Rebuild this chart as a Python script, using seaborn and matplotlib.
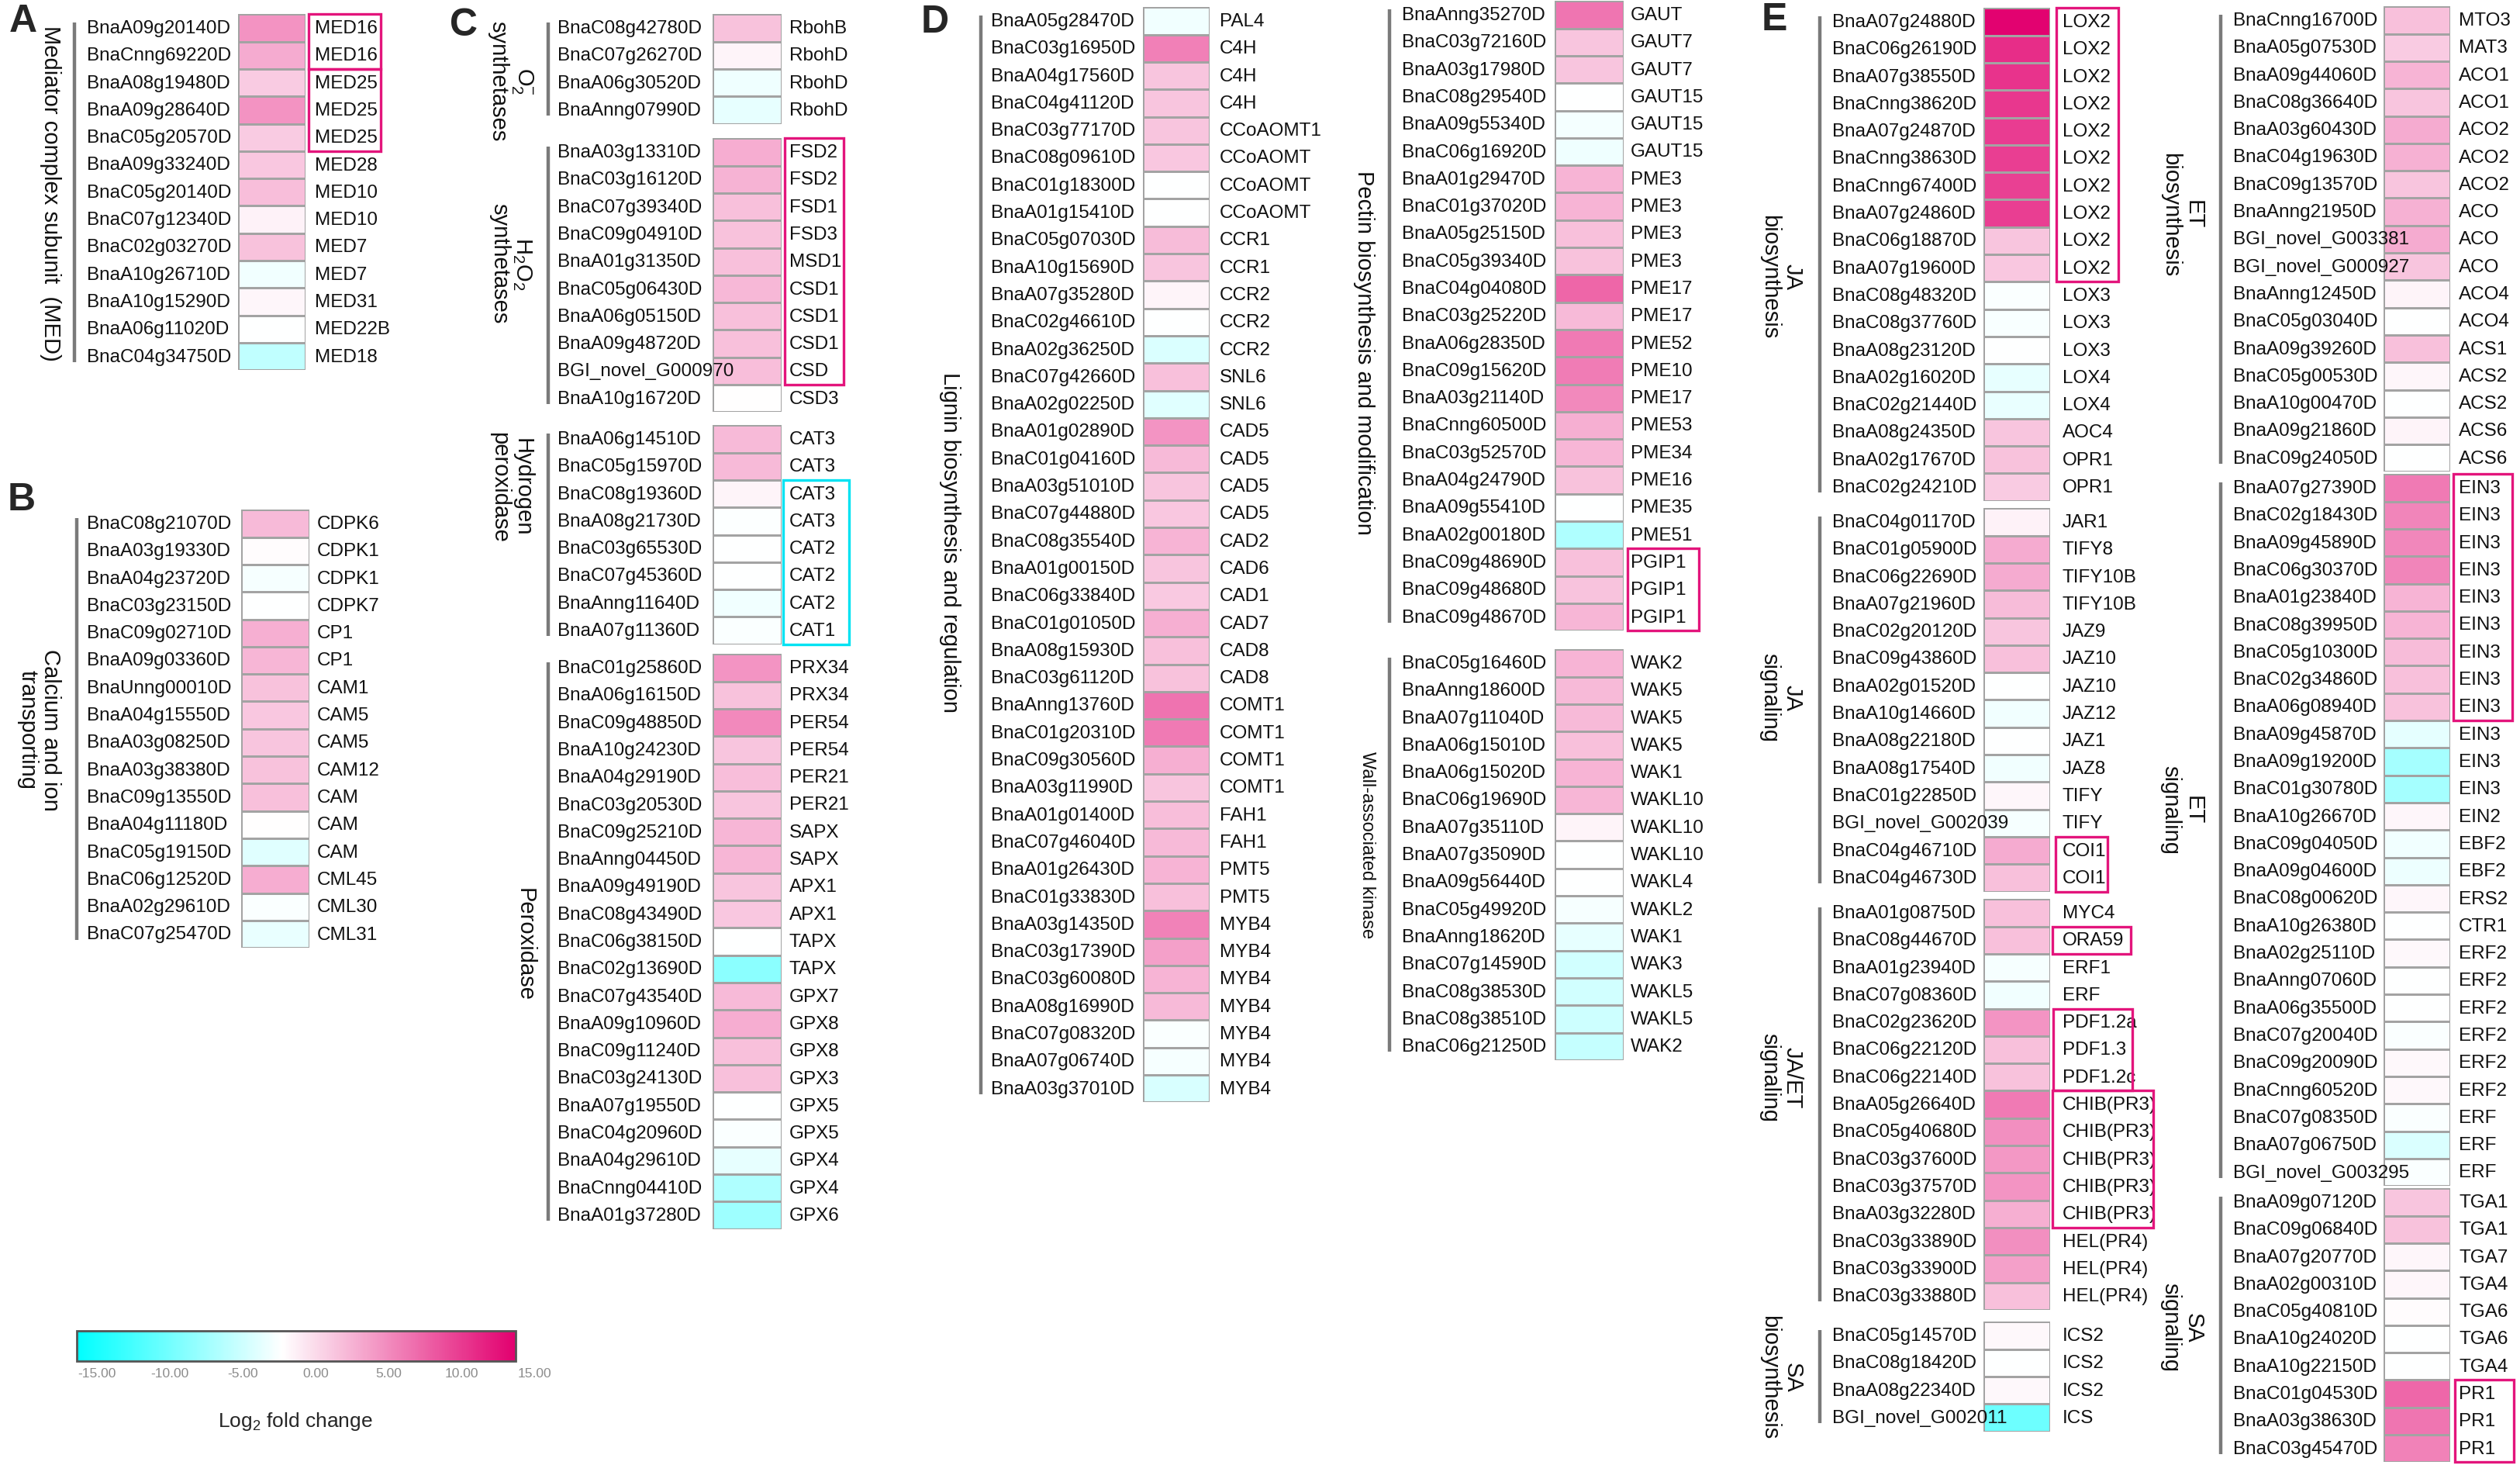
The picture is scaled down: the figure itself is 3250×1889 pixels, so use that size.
import numpy as np
import pandas as pd
import matplotlib
matplotlib.use("Agg")
import matplotlib.pyplot as plt
import seaborn as sns
from matplotlib.colors import LinearSegmentedColormap, Normalize
from matplotlib.patches import Rectangle
from matplotlib.transforms import blended_transform_factory
from matplotlib.cm import ScalarMappable

# ------------------------------------------------------------------
# data: log2 fold change per gene
# ------------------------------------------------------------------
MED_GENES = ["BnaA09g20140D", "BnaCnng69220D", "BnaA08g19480D", "BnaA09g28640D", "BnaC05g20570D",
             "BnaA09g33240D", "BnaC05g20140D", "BnaC07g12340D", "BnaC02g03270D", "BnaA10g26710D",
             "BnaA10g15290D", "BnaA06g11020D", "BnaC04g34750D"]
MED_NAMES = ["MED16", "MED16", "MED25", "MED25", "MED25", "MED28", "MED10", "MED10", "MED7", "MED7",
             "MED31", "MED22B", "MED18"]
MED_LFC = [4.5, 3.0, 1.0, 4.5, 1.0, 1.2, 1.8, -1.5, 1.5, -3.0, -1.8, -2.3, -5.8]

CA_GENES = ["BnaC08g21070D", "BnaA03g19330D", "BnaA04g23720D", "BnaC03g23150D", "BnaC09g02710D",
            "BnaA09g03360D", "BnaUnng00010D", "BnaA04g15550D", "BnaA03g08250D", "BnaA03g38380D",
            "BnaC09g13550D", "BnaA04g11180D", "BnaC05g19150D", "BnaC06g12520D", "BnaA02g29610D",
            "BnaC07g25470D"]
CA_NAMES = ["CDPK6", "CDPK1", "CDPK1", "CDPK7", "CP1", "CP1", "CAM1", "CAM5", "CAM5", "CAM12",
            "CAM", "CAM", "CAM", "CML45", "CML30", "CML31"]
CA_LFC = [2.0, -2.1, -2.8, -2.4, 2.7, 2.2, 1.5, 1.2, 1.3, 1.5, 1.7, -2.2, -4.0, 2.8, -2.6, -3.5]

O2_GENES = ["BnaC08g42780D", "BnaC07g26270D", "BnaA06g30520D", "BnaAnng07990D"]
O2_NAMES = ["RbohB", "RbohD", "RbohD", "RbohD"]
O2_LFC = [1.5, -1.6, -3.2, -3.6]

H2O2_GENES = ["BnaA03g13310D", "BnaC03g16120D", "BnaC07g39340D", "BnaC09g04910D", "BnaA01g31350D",
              "BnaC05g06430D", "BnaA06g05150D", "BnaA09g48720D", "BGI_novel_G000970", "BnaA10g16720D"]
H2O2_NAMES = ["FSD2", "FSD2", "FSD1", "FSD3", "MSD1", "CSD1", "CSD1", "CSD1", "CSD", "CSD3"]
H2O2_LFC = [2.8, 2.5, 1.6, 1.5, 1.6, 2.1, 1.7, 1.6, 1.8, -2.2]

CAT_GENES = ["BnaA06g14510D", "BnaC05g15970D", "BnaC08g19360D", "BnaA08g21730D", "BnaC03g65530D",
             "BnaC07g45360D", "BnaAnng11640D", "BnaA07g11360D"]
CAT_NAMES = ["CAT3", "CAT3", "CAT3", "CAT3", "CAT2", "CAT2", "CAT2", "CAT1"]
CAT_LFC = [2.0, 2.0, -1.6, -2.5, -2.3, -2.3, -3.0, -2.6]

PRX_GENES = ["BnaC01g25860D", "BnaA06g16150D", "BnaC09g48850D", "BnaA10g24230D", "BnaA04g29190D",
             "BnaC03g20530D", "BnaC09g25210D", "BnaAnng04450D", "BnaA09g49190D", "BnaC08g43490D",
             "BnaC06g38150D", "BnaC02g13690D", "BnaC07g43540D", "BnaA09g10960D", "BnaC09g11240D",
             "BnaC03g24130D", "BnaA07g19550D", "BnaC04g20960D", "BnaA04g29610D", "BnaCnng04410D",
             "BnaA01g37280D"]
PRX_NAMES = ["PRX34", "PRX34", "PER54", "PER54", "PER21", "PER21", "SAPX", "SAPX", "APX1", "APX1",
             "TAPX", "TAPX", "GPX7", "GPX8", "GPX8", "GPX3", "GPX5", "GPX5", "GPX4", "GPX4", "GPX6"]
PRX_LFC = [4.3, 1.5, 5.0, 1.3, 1.8, 1.3, 2.2, 2.2, 1.3, 1.2, -2.3, -8.7, 2.0, 2.8, 1.6, 1.6,
           -2.3, -2.6, -3.6, -6.7, -7.6]

LIG_GENES = ["BnaA05g28470D", "BnaC03g16950D", "BnaA04g17560D", "BnaC04g41120D", "BnaC03g77170D",
             "BnaC08g09610D", "BnaC01g18300D", "BnaA01g15410D", "BnaC05g07030D", "BnaA10g15690D",
             "BnaA07g35280D", "BnaC02g46610D", "BnaA02g36250D", "BnaC07g42660D", "BnaA02g02250D",
             "BnaA01g02890D", "BnaC01g04160D", "BnaA03g51010D", "BnaC07g44880D", "BnaC08g35540D",
             "BnaA01g00150D", "BnaC06g33840D", "BnaC01g01050D", "BnaA08g15930D", "BnaC03g61120D",
             "BnaAnng13760D", "BnaC01g20310D", "BnaC09g30560D", "BnaA03g11990D", "BnaA01g01400D",
             "BnaC07g46040D", "BnaA01g26430D", "BnaC01g33830D", "BnaA03g14350D", "BnaC03g17390D",
             "BnaC03g60080D", "BnaA08g16990D", "BnaC07g08320D", "BnaA07g06740D", "BnaA03g37010D"]
LIG_NAMES = ["PAL4", "C4H", "C4H", "C4H", "CCoAOMT1", "CCoAOMT", "CCoAOMT", "CCoAOMT", "CCR1", "CCR1",
             "CCR2", "CCR2", "CCR2", "SNL6", "SNL6", "CAD5", "CAD5", "CAD5", "CAD5", "CAD2",
             "CAD6", "CAD1", "CAD7", "CAD8", "CAD8", "COMT1", "COMT1", "COMT1", "COMT1", "FAH1",
             "FAH1", "PMT5", "PMT5", "MYB4", "MYB4", "MYB4", "MYB4", "MYB4", "MYB4", "MYB4"]
LIG_LFC = [-3.0, 5.6, 1.3, 1.3, 1.3, 1.2, -2.3, -2.3, 1.9, 1.3, -1.6, -2.3, -4.3, 1.6, -4.0,
           4.3, 2.0, 1.3, 1.2, 2.4, 1.3, 1.1, 2.7, 1.6, 1.5, 6.5, 6.0, 2.7, 1.3, 1.8,
           2.0, 2.4, 1.6, 5.5, 3.6, 2.4, 2.0, -2.6, -2.8, -4.5]

PEC_GENES = ["BnaAnng35270D", "BnaC03g72160D", "BnaA03g17980D", "BnaC08g29540D", "BnaA09g55340D",
             "BnaC06g16920D", "BnaA01g29470D", "BnaC01g37020D", "BnaA05g25150D", "BnaC05g39340D",
             "BnaC04g04080D", "BnaC03g25220D", "BnaA06g28350D", "BnaC09g15620D", "BnaA03g21140D",
             "BnaCnng60500D", "BnaC03g52570D", "BnaA04g24790D", "BnaA09g55410D", "BnaA02g00180D",
             "BnaC09g48690D", "BnaC09g48680D", "BnaC09g48670D"]
PEC_NAMES = ["GAUT", "GAUT7", "GAUT7", "GAUT15", "GAUT15", "GAUT15", "PME3", "PME3", "PME3", "PME3",
             "PME17", "PME17", "PME52", "PME10", "PME17", "PME53", "PME34", "PME16", "PME35", "PME51",
             "PGIP1", "PGIP1", "PGIP1"]
PEC_LFC = [6.3, 1.3, 1.3, -2.3, -2.9, -3.2, 2.4, 2.3, 1.6, 1.5, 7.3, 2.0, 6.0, 5.9, 5.1,
           2.7, 2.2, 1.5, -2.3, -6.7, 1.6, 1.4, 2.2]

WAK_GENES = ["BnaC05g16460D", "BnaAnng18600D", "BnaA07g11040D", "BnaA06g15010D", "BnaA06g15020D",
             "BnaC06g19690D", "BnaA07g35110D", "BnaA07g35090D", "BnaA09g56440D", "BnaC05g49920D",
             "BnaAnng18620D", "BnaC07g14590D", "BnaC08g38530D", "BnaC08g38510D", "BnaC06g21250D"]
WAK_NAMES = ["WAK2", "WAK5", "WAK5", "WAK5", "WAK1", "WAKL10", "WAKL10", "WAKL10", "WAKL4", "WAKL2",
             "WAK1", "WAK3", "WAKL5", "WAKL5", "WAK2"]
WAK_LFC = [2.4, 2.0, 2.0, 1.6, 2.3, 2.2, -1.6, -2.3, -2.4, -2.8, -3.6, -4.8, -4.8, -5.0, -5.5]

JAB_GENES = ["BnaA07g24880D", "BnaC06g26190D", "BnaA07g38550D", "BnaCnng38620D", "BnaA07g24870D",
             "BnaCnng38630D", "BnaCnng67400D", "BnaA07g24860D", "BnaC06g18870D", "BnaA07g19600D",
             "BnaC08g48320D", "BnaC08g37760D", "BnaA08g23120D", "BnaA02g16020D", "BnaC02g21440D",
             "BnaA08g24350D", "BnaA02g17670D", "BnaC02g24210D"]
JAB_NAMES = ["LOX2", "LOX2", "LOX2", "LOX2", "LOX2", "LOX2", "LOX2", "LOX2", "LOX2", "LOX2",
             "LOX3", "LOX3", "LOX3", "LOX4", "LOX4", "AOC4", "OPR1", "OPR1"]
JAB_LFC = [13.5, 10.8, 10.5, 10.2, 9.9, 9.8, 9.7, 9.8, 1.3, 1.2, -2.6, -2.7, -2.3, -3.6, -3.5,
           1.3, 1.5, 1.0]

JAS_GENES = ["BnaC04g01170D", "BnaC01g05900D", "BnaC06g22690D", "BnaA07g21960D", "BnaC02g20120D",
             "BnaC09g43860D", "BnaA02g01520D", "BnaA10g14660D", "BnaA08g22180D", "BnaA08g17540D",
             "BnaC01g22850D", "BGI_novel_G002039", "BnaC04g46710D", "BnaC04g46730D"]
JAS_NAMES = ["JAR1", "TIFY8", "TIFY10B", "TIFY10B", "JAZ9", "JAZ10", "JAZ10", "JAZ12", "JAZ1", "JAZ8",
             "TIFY", "TIFY", "COI1", "COI1"]
JAS_LFC = [-1.5, 3.0, 3.0, 1.9, 1.3, 1.6, -2.4, -3.0, -2.3, -3.0, -1.8, -2.8, 2.9, 1.6]

JAET_GENES = ["BnaA01g08750D", "BnaC08g44670D", "BnaA01g23940D", "BnaC07g08360D", "BnaC02g23620D",
              "BnaC06g22120D", "BnaC06g22140D", "BnaA05g26640D", "BnaC05g40680D", "BnaC03g37600D",
              "BnaC03g37570D", "BnaA03g32280D", "BnaC03g33890D", "BnaC03g33900D", "BnaC03g33880D"]
JAET_NAMES = ["MYC4", "ORA59", "ERF1", "ERF", "PDF1.2a", "PDF1.3", "PDF1.2c", "CHIB(PR3)", "CHIB(PR3)",
              "CHIB(PR3)", "CHIB(PR3)", "CHIB(PR3)", "HEL(PR4)", "HEL(PR4)", "HEL(PR4)"]
JAET_LFC = [1.6, 1.6, -2.8, -3.1, 4.3, 1.6, 1.5, 6.0, 4.7, 4.1, 4.3, 2.7, 4.7, 3.7, 1.6]

SAB_GENES = ["BnaC05g14570D", "BnaC08g18420D", "BnaA08g22340D", "BGI_novel_G002011"]
SAB_NAMES = ["ICS2", "ICS2", "ICS2", "ICS"]
SAB_LFC = [-1.9, -2.3, -1.9, -10.3]

ETB_GENES = ["BnaCnng16700D", "BnaA05g07530D", "BnaA09g44060D", "BnaC08g36640D", "BnaA03g60430D",
             "BnaC04g19630D", "BnaC09g13570D", "BnaAnng21950D", "BGI_novel_G003381", "BGI_novel_G000927",
             "BnaAnng12450D", "BnaC05g03040D", "BnaA09g39260D", "BnaC05g00530D", "BnaA10g00470D",
             "BnaA09g21860D", "BnaC09g24050D"]
ETB_NAMES = ["MTO3", "MAT3", "ACO1", "ACO1", "ACO2", "ACO2", "ACO2", "ACO", "ACO", "ACO",
             "ACO4", "ACO4", "ACS1", "ACS2", "ACS2", "ACS6", "ACS6"]
ETB_LFC = [1.6, 1.0, 2.3, 1.3, 3.0, 2.6, 1.3, 2.6, 2.9, 1.3, -1.6, -2.3, 1.7, -1.8, -2.3, -1.7, -2.3]

ETS_GENES = ["BnaA07g27390D", "BnaC02g18430D", "BnaA09g45890D", "BnaC06g30370D", "BnaA01g23840D",
             "BnaC08g39950D", "BnaC05g10300D", "BnaC02g34860D", "BnaA06g08940D", "BnaA09g45870D",
             "BnaA09g19200D", "BnaC01g30780D", "BnaA10g26670D", "BnaC09g04050D", "BnaA09g04600D",
             "BnaC08g00620D", "BnaA10g26380D", "BnaA02g25110D", "BnaAnng07060D", "BnaA06g35500D",
             "BnaC07g20040D", "BnaC09g20090D", "BnaCnng60520D", "BnaC07g08350D", "BnaA07g06750D",
             "BGI_novel_G003295"]
ETS_NAMES = ["EIN3", "EIN3", "EIN3", "EIN3", "EIN3", "EIN3", "EIN3", "EIN3", "EIN3", "EIN3",
             "EIN3", "EIN3", "EIN2", "EBF2", "EBF2", "ERS2", "CTR1", "ERF2", "ERF2", "ERF2",
             "ERF2", "ERF2", "ERF2", "ERF", "ERF", "ERF"]
ETS_LFC = [6.0, 5.3, 5.2, 5.3, 2.3, 2.3, 1.9, 1.6, 1.5, -3.8, -7.3, -7.3, -1.8, -3.1, -3.3,
           -1.8, -2.3, -1.9, -2.3, -2.3, -2.6, -1.9, -1.9, -2.6, -4.3, -2.6]

SAS_GENES = ["BnaA09g07120D", "BnaC09g06840D", "BnaA07g20770D", "BnaA02g00310D", "BnaC05g40810D",
             "BnaA10g24020D", "BnaA10g22150D", "BnaC01g04530D", "BnaA03g38630D", "BnaC03g45470D"]
SAS_NAMES = ["TGA1", "TGA1", "TGA7", "TGA4", "TGA6", "TGA6", "TGA4", "PR1", "PR1", "PR1"]
SAS_LFC = [1.3, 1.5, -1.8, -1.8, -2.1, -2.3, -2.3, 7.2, 6.3, 5.5]

CB_TICKS = [-15, -10, -5, 0, 5, 10, 15]

# ------------------------------------------------------------------
# style / layout (pixel units of the 3250 x 1890 canvas)
# ------------------------------------------------------------------
W, H = 3250, 1890
STEP = 35.3
FS = 17.5
GFS = 21
VMIN, VMAX = -16.4, 13.7
CMAP = LinearSegmentedColormap.from_list(
    "lfc", [(0.0, "#00ffff"), (0.468, "#ffffff"), (1.0, "#e2006f")])
RED = "#e3157c"
CYAN = "#00e2f2"

sns.set_theme(style="white")
plt.rcParams["font.family"] = ["Liberation Sans", "DejaVu Sans"]
plt.rcParams["mathtext.fontset"] = "custom"
plt.rcParams["mathtext.rm"] = "Liberation Sans"
plt.rcParams["mathtext.it"] = "Liberation Sans:italic"

COLUMNS = {
    "A": dict(name_x=112, cells=(307, 394), label_x=406, bar_x=96),
    "B": dict(name_x=112, cells=(311, 399), label_x=409, bar_x=99),
    "C": dict(name_x=719, cells=(919, 1008), label_x=1018, bar_x=707),
    "D1": dict(name_x=1278, cells=(1474, 1560), label_x=1573, bar_x=1265),
    "D2": dict(name_x=1808, cells=(2005, 2094), label_x=2103, bar_x=1792),
    "E1": dict(name_x=2363, cells=(2558, 2644), label_x=2660, bar_x=2347),
    "E2": dict(name_x=2880, cells=(3074, 3160), label_x=3171, bar_x=2864),
}

fig = plt.figure(figsize=(W / 100, H / 100), dpi=100)


def px_axes(x0, y0, w, h):
    return fig.add_axes([x0 / W, 1 - (y0 + h) / H, w / W, h / H])


def fig_text(x, y, s, **kw):
    fig.text(x / W, 1 - y / H, s, **kw)


def draw_group(col, genes, names, vals, y_first, label, label_xy, label_fs=GFS):
    c = COLUMNS[col]
    cx0, cx1 = c["cells"]
    cw = cx1 - cx0
    n = len(vals)
    ax = px_axes(cx0, y_first - STEP / 2, cw, n * STEP)
    df = pd.DataFrame({"lfc": vals}, index=genes)
    sns.heatmap(df, ax=ax, cmap=CMAP, vmin=VMIN, vmax=VMAX, cbar=False,
                linewidths=1.0, linecolor="#a3a3a3", xticklabels=False, yticklabels=False)
    ax.set_ylabel("")
    tr = blended_transform_factory(ax.transAxes, ax.transData)

    def fx(px):
        return (px - cx0) / cw

    for i, (g, nm) in enumerate(zip(genes, names)):
        ax.text(fx(c["name_x"]), i + 0.5, g, transform=tr, ha="left", va="center",
                fontsize=FS, color="#111111", zorder=4)
        ax.text(fx(c["label_x"]), i + 0.5, nm, transform=tr, ha="left", va="center",
                fontsize=FS, color="#111111", zorder=4)
    ax.plot([fx(c["bar_x"])] * 2, [0.3, n - 0.3], transform=tr, color="#7a7a7a",
            lw=3.2, clip_on=False, solid_capstyle="butt")
    fig_text(*label_xy, label, rotation=-90, ha="center", va="center",
             fontsize=label_fs, linespacing=1.05, multialignment="center", color="#111111")

    def box(r0, r1, x0, x1, color=RED):
        ax.add_patch(Rectangle((fx(x0), r0), fx(x1) - fx(x0), r1 - r0 + 1, transform=tr,
                               fill=False, ec=color, lw=2.4, clip_on=False, zorder=5))
    return box


# --- A: mediator ---
box = draw_group("A", MED_GENES, MED_NAMES, MED_LFC, 37, "Mediator complex subunit  (MED)", (65, 249))
box(0, 1, 398, 491)
box(2, 4, 398, 491)

# --- B: calcium ---
draw_group("B", CA_GENES, CA_NAMES, CA_LFC, 676, "Calcium and ion\ntransporting", (50, 941))

# --- C: ROS ---
draw_group("C", O2_GENES, O2_NAMES, O2_LFC, 37, "O$_2^{-}$\nsynthetases", (659, 105))
box = draw_group("C", H2O2_GENES, H2O2_NAMES, H2O2_LFC, 197, "H$_2$O$_2$\nsynthetases", (659, 340))
box(0, 8, 1012, 1088)
box = draw_group("C", CAT_GENES, CAT_NAMES, CAT_LFC, 567, "Hydrogen\nperoxidase", (659, 628))
box(2, 7, 1010, 1095, CYAN)
draw_group("C", PRX_GENES, PRX_NAMES, PRX_LFC, 862, "Peroxidase", (677, 1218))

# --- D: cell wall ---
draw_group("D1", LIG_GENES, LIG_NAMES, LIG_LFC, 28, "Lignin biosynthesis and regulation", (1225, 700))
box = draw_group("D2", PEC_GENES, PEC_NAMES, PEC_LFC, 20, "Pectin biosynthesis and modification",
                 (1759, 455))
box(20, 22, 2099, 2191)
draw_group("D2", WAK_GENES, WAK_NAMES, WAK_LFC, 856, "Wall-associated kinase", (1763, 1090), 17)

# --- E: hormones ---
box = draw_group("E1", JAB_GENES, JAB_NAMES, JAB_LFC, 29, "JA\nbiosynthesis", (2297, 357))
box(0, 9, 2652, 2732)
box = draw_group("E1", JAS_GENES, JAS_NAMES, JAS_LFC, 674, "JA\nsignaling", (2297, 900))
box(12, 13, 2651, 2718)
box = draw_group("E1", JAET_GENES, JAET_NAMES, JAET_LFC, 1178, "JA/ET\nsignaling", (2297, 1390))
box(1, 1, 2647, 2748)
box(4, 6, 2648, 2750)
box(7, 11, 2647, 2777)
draw_group("E1", SAB_GENES, SAB_NAMES, SAB_LFC, 1723, "SA\nbiosynthesis", (2297, 1776))

draw_group("E2", ETB_GENES, ETB_NAMES, ETB_LFC, 27, "ET\nbiosynthesis", (2814, 277))
box = draw_group("E2", ETS_GENES, ETS_NAMES, ETS_LFC, 630, "ET\nsignaling", (2814, 1045))
box(0, 8, 3164, 3240)
box = draw_group("E2", SAS_GENES, SAS_NAMES, SAS_LFC, 1551, "SA\nsignaling", (2814, 1712))
box(7, 9, 3166, 3242)

# --- panel letters ---
for letter, xy in [("A", (30, 28)), ("B", (28, 645)), ("C", (598, 33)), ("D", (1206, 29)), ("E", (2288, 26))]:
    fig_text(*xy, letter, fontsize=36, fontweight="bold", ha="center", va="center")

# --- colour scale ---
cax = px_axes(99, 1717, 566, 39)
sm = ScalarMappable(norm=Normalize(VMIN, VMAX), cmap=CMAP)
cb = fig.colorbar(sm, cax=cax, orientation="horizontal")
inside = [t for t in CB_TICKS if VMIN <= t <= VMAX]
cb.set_ticks(inside)
cb.ax.set_xticklabels([f"{t:.2f}" for t in inside], fontsize=12.5, color="#8c8c8c")
cb.ax.tick_params(length=0, pad=6)
trc = blended_transform_factory(cb.ax.transData, cb.ax.transAxes)
for t in CB_TICKS:
    if t > VMAX:
        cb.ax.annotate(f"{t:.2f}", xy=(t, 0), xycoords=trc, xytext=(0, -6),
                       textcoords="offset points", ha="center", va="top", fontsize=12.5,
                       color="#8c8c8c", annotation_clip=False)
cb.outline.set_edgecolor("#555555")
cb.outline.set_linewidth(2)
fig_text(381, 1833, "Log$_2$ fold change", fontsize=19, ha="center", va="center")

fig.savefig("out.png", dpi=100)
